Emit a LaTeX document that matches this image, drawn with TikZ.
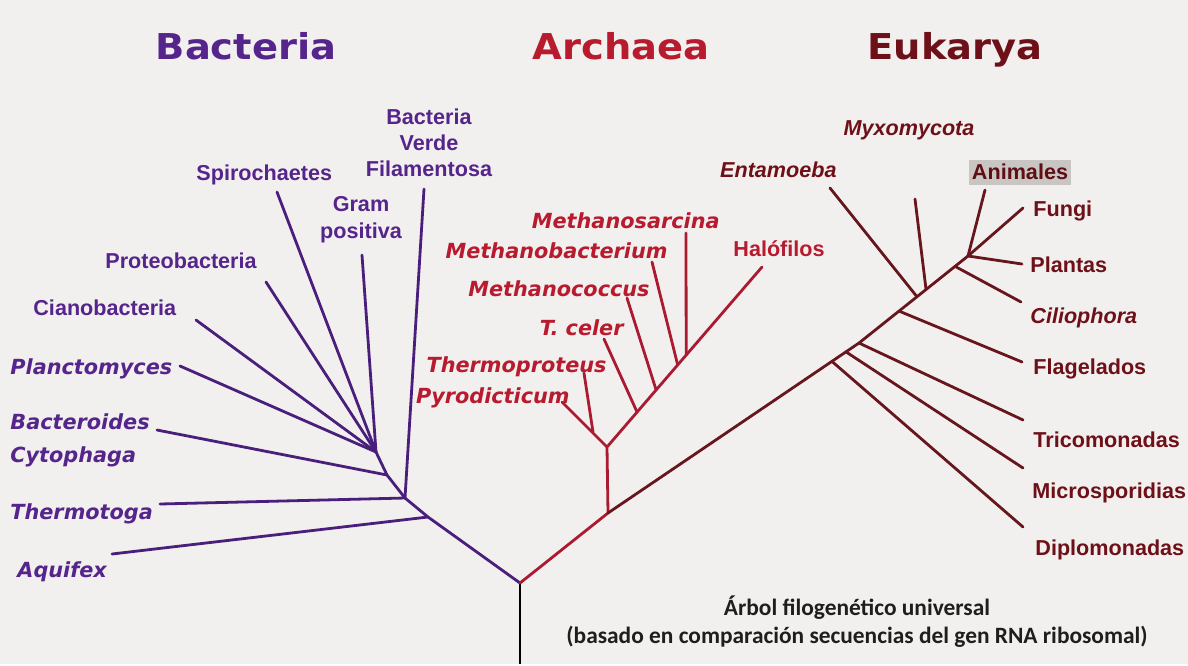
\documentclass[tikz,border=0pt]{standalone}
\usepackage{fontspec}
\setmainfont{Liberation Sans}
\newfontfamily\headfont{Carlito}
\newfontfamily\widefont{DejaVu Sans}
\newfontfamily\titlefont[FakeStretch=1.08]{DejaVu Sans}
\usepackage{tikz}
\usetikzlibrary{calc}
\definecolor{bgcol}{HTML}{F2F0EF}
\definecolor{bactcol}{HTML}{55258C}
\definecolor{bactline}{HTML}{4A1F7C}
\definecolor{archcol}{HTML}{B81A2E}
\definecolor{archline}{HTML}{AA1A30}
\definecolor{eukcol}{HTML}{6E1018}
\definecolor{eukline}{HTML}{66161C}
\definecolor{boxcol}{HTML}{C9C5C3}
\definecolor{captcol}{HTML}{1E1E1E}

\tikzset{
  domaintitle/.style={font=\titlefont\bfseries\fontsize{17.8}{20}\selectfont, inner sep=0pt, anchor=base},
  bactlab/.style={font=\bfseries\fontsize{10.8}{13}\selectfont, text=bactcol, inner sep=0pt},
  bactital/.style={font=\widefont\bfseries\itshape\fontsize{10.4}{16.5}\selectfont, text=bactcol, inner sep=0pt},
  archital/.style={font=\widefont\bfseries\itshape\fontsize{10.4}{12}\selectfont, text=archcol, inner sep=0pt},
  archlab/.style={font=\bfseries\fontsize{10.8}{13}\selectfont, text=archcol, inner sep=0pt},
  euklab/.style={font=\bfseries\fontsize{10.8}{13}\selectfont, text=eukcol, inner sep=0pt},
  eukital/.style={font=\bfseries\itshape\fontsize{10.8}{13}\selectfont, text=eukcol, inner sep=0pt},
  caption/.style={font=\headfont\bfseries\fontsize{11.7}{14}\selectfont, text=captcol, anchor=base, inner sep=0pt},
  branchline/.style={line width=1.4pt, line cap=round, line join=round},
  bactbranch/.style={branchline, draw=bactline},
  archbranch/.style={branchline, draw=archline},
  eukbranch/.style={branchline, draw=eukline},
}

\begin{document}
\begin{tikzpicture}[x=0.5pt, y=-0.5pt]

% Background
\fill[bgcol] (0,0) rectangle (1188,664);

% Domain titles
\node[domaintitle, text=bactcol] (tbact) at (246,59) {Bacteria};
\node[domaintitle, text=archcol] (tarch) at (621,59) {Archaea};
\node[domaintitle, text=eukcol] (teuk) at (955,59) {Eukarya};

% Root
\coordinate (rootbot) at (520,664);
\coordinate (root) at (520,583);
\draw[branchline, draw=black, line cap=butt] (rootbot) -- (root);

% Bacteria
\coordinate (baqj) at (428,517);
\coordinate (bnode) at (405,498);
\coordinate (bsub) at (387,475);
\coordinate (bfan) at (376,452);
\draw[bactbranch] (root) -- (baqj) -- (bnode) -- (bsub) -- (bfan);

\coordinate (aquifexend) at (112,554);
\coordinate (thermotogaend) at (160,504);
\coordinate (verdeend) at (424,189);
\coordinate (bacteroidesend) at (157,430);
\coordinate (planctoend) at (180,366);
\coordinate (cianoend) at (196,320);
\coordinate (proteoend) at (266,282);
\coordinate (spiroend) at (277,192);
\coordinate (gramend) at (362,255);

\draw[bactbranch] (baqj) -- (aquifexend);
\draw[bactbranch] (bnode) -- (thermotogaend);
\draw[bactbranch] (bnode) -- (verdeend);
\draw[bactbranch] (bsub) -- (bacteroidesend);
\foreach \e in {planctoend, cianoend, proteoend, spiroend, gramend}
  \draw[bactbranch] (bfan) -- (\e);

\node[bactital, anchor=base west] (aquifex) at (17,577) {Aquifex};
\node[bactital, anchor=base west] (thermotoga) at (10,519) {Thermotoga};
\node[bactital, anchor=north west, align=left] (bacteroides) at (10,413) {Bacteroides\\Cytophaga};
\node[bactital, anchor=base west] (plancto) at (10,374) {Planctomyces};
\node[bactlab, anchor=base west] (ciano) at (33,315) {Cianobacteria};
\node[bactlab, anchor=base west] (proteo) at (105,268) {Proteobacteria};
\node[bactlab, anchor=base west] (spiro) at (196,180) {Spirochaetes};
\node[bactlab, align=center, font=\bfseries\fontsize{10.8}{13.5}\selectfont] (gram) at (361,220) {Gram\\positiva};
\node[bactlab, align=center] (verde) at (429,143) {Bacteria\\Verde\\Filamentosa};

% Archaea
\coordinate (anode) at (608,513);
\coordinate (asplit) at (607,447);
\coordinate (apyro) at (593,432);
\coordinate (pyroend) at (562,402);
\coordinate (thermoend) at (584,373);
\coordinate (haloend) at (762,267);
\draw[archbranch] (root) -- (anode) -- (asplit) -- (haloend);
\draw[archbranch] (asplit) -- (pyroend);
\draw[archbranch] (apyro) -- (thermoend);

\coordinate (celerend) at (604,339);
\coordinate (coccusend) at (627,298);
\coordinate (bacteriumend) at (652,262);
\coordinate (sarcinaend) at (686,233);
\foreach \t/\e in {0.194/celerend, 0.317/coccusend, 0.456/bacteriumend, 0.511/sarcinaend}
  \draw[archbranch] ($(asplit)!\t!(haloend)$) -- (\e);

\node[archital, anchor=base east] (sarcina) at (720,228) {Methanosarcina};
\node[archital, anchor=base east] (bacterium) at (668,258) {Methanobacterium};
\node[archital, anchor=base east] (coccus) at (650,296) {Methanococcus};
\node[archital, anchor=base east] (celer) at (624,335) {T. celer};
\node[archital, anchor=base east] (thermo) at (607,372) {Thermoproteus};
\node[archital, anchor=base east] (pyro) at (570,403) {Pyrodicticum};
\node[archlab, anchor=base] (halo) at (779,256) {Halófilos};

% Eukarya
\coordinate (ebend) at (859,343);
\coordinate (crown) at (968,256);
\draw[eukbranch] (anode) -- (ebend) -- (crown);

\coordinate (diploend) at (1023,527);
\coordinate (microend) at (1023,468);
\coordinate (tricoend) at (1023,420);
\coordinate (flagend) at (1022,362);
\coordinate (entend) at (830,188);
\coordinate (myxoend) at (915,199);
\coordinate (ciliend) at (1021,302);
\coordinate (plantend) at (1022,264);
\coordinate (fungiend) at (1023,208);
\coordinate (animend) at (985,190);

\draw[eukbranch] ($(anode)!0.892!(ebend)$) -- (diploend);
\draw[eukbranch] ($(anode)!0.948!(ebend)$) -- (microend);
\draw[eukbranch] (ebend) -- (tricoend);
\foreach \t/\e in {0.367/flagend, 0.532/entend, 0.615/myxoend, 0.881/ciliend}
  \draw[eukbranch] ($(ebend)!\t!(crown)$) -- (\e);
\foreach \e in {plantend, fungiend, animend}
  \draw[eukbranch] (crown) -- (\e);

\node[eukital, anchor=base east] (entamoeba) at (837,177) {Entamoeba};
\node[eukital, anchor=base] (myxo) at (909,135) {Myxomycota};
\node[euklab, fill=boxcol, inner xsep=1.5pt, minimum height=12.5pt, text=eukcol!85!black] (animales) at (1020,172) {Animales};
\node[euklab, anchor=base west] (fungi) at (1033,216) {Fungi};
\node[euklab, anchor=base west] (plantas) at (1030,272) {Plantas};
\node[eukital, anchor=base west] (cilio) at (1030,323) {Ciliophora};
\node[euklab, anchor=base west] (flag) at (1033,374) {Flagelados};
\node[euklab, anchor=base west] (trico) at (1033,447) {Tricomonadas};
\node[euklab, anchor=base west] (micro) at (1032,498) {Microsporidias};
\node[euklab, anchor=base west] (diplo) at (1035,555) {Diplomonadas};

% Caption
\node[caption] (caption1) at (857,615) {Árbol filogenético universal};
\node[caption] (caption2) at (857,643) {(basado en comparación secuencias del gen RNA ribosomal)};

\end{tikzpicture}
\end{document}
